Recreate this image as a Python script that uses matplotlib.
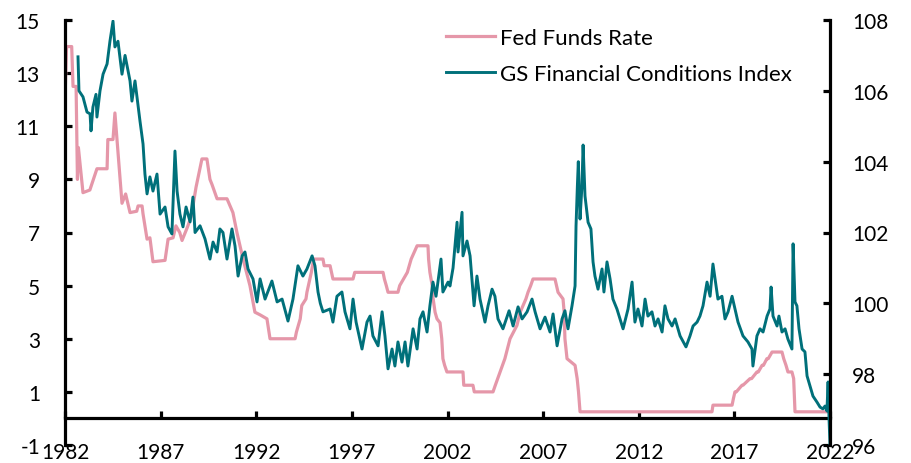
import matplotlib
matplotlib.use("Agg")
import matplotlib.pyplot as plt

plt.rcParams["font.family"] = ["Lato", "DejaVu Sans"]
plt.rcParams["axes.unicode_minus"] = False

# Fed Funds Rate (left axis, %)
ff_year = [1982.00, 1982.08, 1982.35, 1982.42, 1982.58, 1982.65, 1982.70, 1982.94, 1983.30,
           1983.67, 1984.20, 1984.24, 1984.51, 1984.61, 1984.98, 1985.17, 1985.40, 1985.75,
           1985.82, 1986.03, 1986.08, 1986.29, 1986.44, 1986.60, 1987.23, 1987.39, 1987.65,
           1987.80, 1988.00, 1988.12, 1988.40, 1988.60, 1988.85, 1989.16, 1989.42, 1989.58,
           1989.69, 1989.95, 1990.47, 1990.63, 1990.78, 1990.99, 1991.31, 1991.67, 1991.93,
           1992.20, 1992.56, 1992.72, 1994.03, 1994.10, 1994.20, 1994.30, 1994.38, 1994.60,
           1994.65, 1994.88, 1995.00, 1995.49, 1995.55, 1995.86, 1996.01, 1997.06, 1997.15,
           1998.63, 1998.70, 1998.80, 1998.89, 1999.41, 1999.50, 1999.70, 1999.90, 2000.00,
           2000.10, 2000.41, 2000.98, 2001.01, 2001.08, 2001.20, 2001.25, 2001.35, 2001.45,
           2001.61, 2001.70, 2001.76, 2001.85, 2001.97, 2002.81, 2002.85, 2003.33, 2003.40,
           2004.38, 2004.50, 2004.75, 2005.00, 2005.27, 2005.45, 2005.63, 2005.80, 2005.95,
           2006.10, 2006.21, 2006.35, 2006.47, 2007.62, 2007.70, 2007.78, 2008.04, 2008.10,
           2008.14, 2008.25, 2008.67, 2008.78, 2008.85, 2008.93, 2015.83, 2015.88, 2016.88,
           2016.95, 2017.03, 2017.10, 2017.40, 2017.45, 2017.82, 2017.90, 2018.18, 2018.25,
           2018.45, 2018.52, 2018.70, 2018.77, 2018.97, 2019.49, 2019.58, 2019.70, 2019.80,
           2020.01, 2020.10, 2020.17, 2022.00]
ff_rate = [12.0, 14.0, 14.0, 12.5, 12.5, 9.0, 10.2, 8.5, 8.6,
           9.4, 9.4, 10.5, 10.5, 11.5, 8.1, 8.45, 7.75, 7.8,
           8.0, 8.0, 7.7, 6.75, 6.8, 5.9, 5.95, 6.75, 6.8,
           7.25, 7.0, 6.7, 7.2, 7.6, 8.7, 9.77, 9.77, 9.0,
           8.8, 8.27, 8.27, 8.0, 7.75, 7.0, 6.0, 5.0, 4.0,
           3.9, 3.75, 3.0, 3.0, 3.25, 3.5, 3.75, 4.25, 4.5,
           4.75, 5.5, 6.0, 6.0, 5.75, 5.75, 5.25, 5.25, 5.5,
           5.5, 5.25, 5.0, 4.75, 4.75, 5.0, 5.25, 5.5, 5.75,
           6.0, 6.5, 6.5, 6.0, 5.5, 5.0, 4.5, 4.0, 3.75,
           3.6, 3.0, 2.25, 2.0, 1.75, 1.75, 1.25, 1.25, 1.0,
           1.0, 1.25, 1.75, 2.25, 3.0, 3.25, 3.5, 4.0, 4.25,
           4.5, 4.75, 5.0, 5.25, 5.25, 5.0, 4.75, 4.5, 4.0,
           3.0, 2.25, 2.0, 1.5, 1.0, 0.25, 0.25, 0.5, 0.5,
           0.75, 1.0, 1.0, 1.25, 1.25, 1.5, 1.5, 1.75, 1.75,
           2.0, 2.0, 2.25, 2.25, 2.5, 2.5, 2.25, 2.0, 1.75,
           1.75, 1.5, 0.25, 0.25]

# GS Financial Conditions Index (right axis)
fci_year = [1982.68, 1982.73, 1982.94, 1983.15, 1983.31, 1983.36, 1983.46, 1983.62, 1983.67,
            1983.83, 1983.99, 1984.20, 1984.35, 1984.51, 1984.61, 1984.77, 1984.98, 1985.14,
            1985.40, 1985.50, 1985.66, 1985.92, 1986.08, 1986.18, 1986.29, 1986.44, 1986.60,
            1986.81, 1986.97, 1987.23, 1987.39, 1987.59, 1987.75, 1987.86, 1988.01, 1988.17,
            1988.33, 1988.54, 1988.69, 1988.80, 1989.06, 1989.32, 1989.58, 1989.74, 1989.95,
            1990.10, 1990.26, 1990.47, 1990.73, 1990.89, 1991.05, 1991.26, 1991.41, 1991.57,
            1991.83, 1992.04, 1992.20, 1992.46, 1992.82, 1993.09, 1993.35, 1993.66, 1993.92,
            1994.18, 1994.44, 1994.65, 1994.92, 1995.07, 1995.23, 1995.35, 1995.49, 1995.86,
            1996.01, 1996.22, 1996.48, 1996.64, 1996.90, 1997.06, 1997.22, 1997.53, 1997.79,
            1997.95, 1998.10, 1998.37, 1998.58, 1998.73, 1998.89, 1999.10, 1999.25, 1999.41,
            1999.62, 1999.78, 1999.93, 2000.20, 2000.41, 2000.56, 2000.72, 2000.93, 2001.08,
            2001.24, 2001.40, 2001.66, 2001.76, 2002.03, 2002.13, 2002.29, 2002.50, 2002.55,
            2002.76, 2002.81, 2003.02, 2003.18, 2003.39, 2003.54, 2003.70, 2003.96, 2004.12,
            2004.33, 2004.48, 2004.64, 2004.90, 2005.22, 2005.43, 2005.69, 2005.90, 2006.16,
            2006.42, 2006.58, 2006.84, 2007.10, 2007.36, 2007.52, 2007.73, 2007.99, 2008.14,
            2008.30, 2008.51, 2008.67, 2008.72, 2008.79, 2008.84, 2008.93, 2009.03, 2009.09,
            2009.19, 2009.29, 2009.35, 2009.50, 2009.61, 2009.71, 2009.87, 2010.08, 2010.18,
            2010.34, 2010.50, 2010.65, 2010.86, 2011.02, 2011.18, 2011.44, 2011.65, 2011.80,
            2011.96, 2012.17, 2012.33, 2012.48, 2012.69, 2012.85, 2013.01, 2013.22, 2013.37,
            2013.53, 2013.74, 2013.90, 2014.16, 2014.47, 2014.68, 2014.84, 2015.05, 2015.20,
            2015.36, 2015.57, 2015.73, 2015.88, 2016.04, 2016.14, 2016.35, 2016.51, 2016.67,
            2016.88, 2017.03, 2017.19, 2017.45, 2017.71, 2017.92, 2017.97, 2018.18, 2018.34,
            2018.50, 2018.71, 2018.86, 2018.92, 2019.02, 2019.23, 2019.33, 2019.49, 2019.65,
            2019.80, 2020.01, 2020.07, 2020.17, 2020.27, 2020.38, 2020.54, 2020.69, 2020.80,
            2020.95, 2021.11, 2021.32, 2021.48, 2021.63, 2021.74, 2021.84, 2021.90, 2021.95,
            2022.00]
fci_val = [106.96, 106.0, 105.83, 105.4, 105.35, 104.87, 105.54, 105.9, 105.26,
           106.0, 106.47, 106.76, 107.4, 107.97, 107.24, 107.4, 106.47, 107.0,
           106.28, 105.71, 106.28, 105.15, 104.5, 103.65, 103.09, 103.57, 103.17,
           103.65, 102.52, 102.72, 102.16, 101.96, 104.3, 103.17, 102.52, 102.16,
           102.72, 102.3, 103.0, 102.0, 102.19, 101.82, 101.25, 101.73, 101.45,
           102.1, 102.0, 101.25, 102.1, 101.62, 100.77, 101.34, 101.45, 100.97,
           100.69, 100.04, 100.69, 100.12, 100.63, 100.04, 100.12, 99.5, 100.12,
           101.06, 100.77, 100.97, 101.34, 101.06, 100.32, 100.0, 99.76, 99.84,
           99.47, 100.2, 100.32, 99.76, 99.28, 100.12, 99.47, 98.71, 99.47,
           99.64, 99.08, 98.8, 99.76, 99.08, 98.15, 98.71, 98.23, 98.91,
           98.34, 98.91, 98.23, 99.28, 98.71, 99.56, 99.76, 99.19, 99.93,
           100.6, 100.2, 101.25, 100.32, 100.6, 100.49, 101.0, 102.29, 101.45,
           102.57, 101.34, 101.76, 101.34, 99.93, 100.77, 100.12, 99.47, 99.93,
           100.4, 100.2, 99.56, 99.28, 99.79, 99.36, 99.9, 99.56, 99.76,
           100.12, 99.76, 99.28, 99.61, 99.19, 99.7, 98.8, 99.56, 99.79,
           99.28, 99.93, 100.49, 102.18, 103.3, 104.0, 102.38, 103.31, 104.47,
           103.03, 102.57, 102.29, 102.1, 101.17, 100.77, 100.4, 100.97, 100.32,
           101.17, 100.69, 100.12, 99.84, 99.56, 99.28, 99.84, 100.6, 99.47,
           99.84, 99.36, 100.12, 99.64, 99.76, 99.36, 99.56, 99.19, 99.93,
           99.56, 99.36, 99.56, 99.08, 98.77, 99.08, 99.36, 99.47, 99.64,
           99.93, 100.6, 100.2, 101.11, 100.49, 100.12, 100.2, 99.56, 99.76,
           100.2, 99.84, 99.47, 99.08, 98.91, 98.71, 98.23, 99.08, 99.28,
           99.19, 99.64, 99.84, 100.46, 99.64, 99.36, 99.64, 99.19, 99.28,
           98.99, 98.71, 101.68, 100.04, 99.93, 99.28, 98.71, 98.63, 97.95,
           97.67, 97.38, 97.21, 97.07, 97.02, 97.1, 96.96, 97.78, 96.73,
           96.0]

year_ticks = list(range(1982, 2023, 5))
left_ticks = list(range(-1, 16, 2))
right_ticks = list(range(96, 109, 2))

PINK = "#E597A9"
TEAL = "#00707A"

fig = plt.figure(figsize=(9.11, 4.64), dpi=100)
ax = fig.add_axes([65 / 911, 1 - 446 / 464, 765 / 911, 425 / 464])
ax2 = ax.twinx()

l1, = ax.plot(ff_year, ff_rate, color=PINK, lw=2.3, solid_joinstyle="round", label="Fed Funds Rate")
l2, = ax2.plot(fci_year, fci_val, color=TEAL, lw=2.1, solid_joinstyle="round",
               label="GS Financial Conditions Index")

ax.set_xlim(1982, 2022)
ax.set_ylim(-1, 15)
ax2.set_ylim(96, 108)
ax.set_xticks(year_ticks)
ax.set_yticks(left_ticks)
ax2.set_yticks(right_ticks)

for a in (ax, ax2):
    a.spines["top"].set_visible(False)
    for s in a.spines.values():
        s.set_linewidth(2.3)
ax.spines["right"].set_visible(False)
ax2.spines["left"].set_visible(False)
ax2.spines["bottom"].set_visible(False)
ax.spines["bottom"].set_position(("data", 0))

ax.tick_params(axis="x", direction="in", length=5, width=2.3, pad=17, labelsize=15)
ax.tick_params(axis="y", direction="in", length=5, width=2.3, pad=18, labelsize=15)
ax2.tick_params(axis="y", direction="in", length=5, width=2.3, pad=16, labelsize=15)

fig.legend(handles=[l1, l2], loc="upper left", bbox_to_anchor=(446 / 911, 1 - 29 / 464),
           frameon=False, fontsize=16, handlelength=2.2, handletextpad=0.25,
           labelspacing=0.7, borderpad=0, borderaxespad=0)

fig.savefig("out.png", dpi=100)
